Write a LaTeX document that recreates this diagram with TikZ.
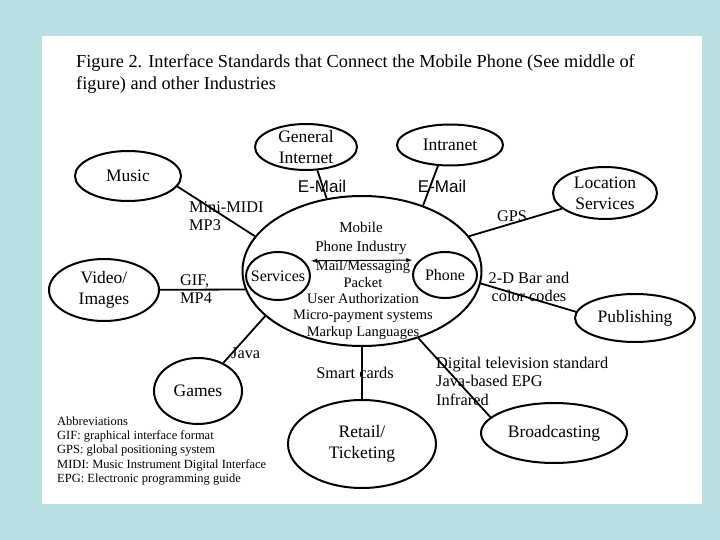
\documentclass[tikz,border=0pt]{standalone}
\usepackage{fontspec}
\setmainfont{Liberation Serif}
\newfontfamily\emailfont{Liberation Sans}
\usetikzlibrary{shapes.geometric}
\definecolor{slidebg}{RGB}{185,223,227}

\begin{document}
\begin{tikzpicture}[
  x=1pt, y=-1pt,
  industry/.style={draw, ellipse, line width=2pt, inner sep=-6pt, align=center, font=\fontsize{17.5}{21}\selectfont},
  inner/.style={industry, font=\fontsize{16}{19}\selectfont},
  link/.style={line width=1.8pt},
  note/.style={inner sep=0pt, font=\fontsize{16.3}{18.5}\selectfont},
  email/.style={inner sep=0pt, font=\emailfont\fontsize{17}{20}\selectfont}
]
% slide and page
\fill[slidebg] (0,0) rectangle (720,540);
\fill[white] (42,36) rectangle (702,504);
\useasboundingbox (0,0) rectangle (720,540);

\node[inner sep=0pt, anchor=west, align=left, font=\fontsize{18.3}{22}\selectfont] (title) at (76,74)
  {Figure 2. Interface Standards that Connect the Mobile Phone (See middle of\\figure) and other Industries};

% industries
\node[industry, minimum width=106pt, minimum height=50pt] (music) at (128,176) {Music};
\node[industry, minimum width=102pt, minimum height=46pt] (internet) at (306,147) {General\\Internet};
\node[industry, minimum width=106pt, minimum height=41pt] (intranet) at (450,145) {Intranet};
\node[industry, minimum width=104pt, minimum height=52pt] (location) at (605,193) {Location\\Services};
\node[industry, minimum width=110pt, minimum height=62pt] (video) at (104,290) {Video/\\Images};
\node[industry, minimum width=88pt, minimum height=66pt] (games) at (198,391) {Games};
\node[industry, minimum width=120pt, minimum height=48pt] (publishing) at (635,318) {Publishing};
\node[industry, minimum width=146pt, minimum height=60pt] (broadcasting) at (554,433) {Broadcasting};
\node[industry, minimum width=148pt, minimum height=88pt] (retail) at (362,444) {Retail/\\Ticketing};

% mobile phone industry
\node[industry, minimum width=239pt, minimum height=150pt] (mobile) at (362,271) {};
\node[inner, minimum width=64pt, minimum height=48pt] (services) at (278,276) {Services};
\node[inner, minimum width=64pt, minimum height=46pt] (phone) at (445,275) {Phone};
\node[inner sep=0pt, align=center, font=\fontsize{15}{19}\selectfont] (mobiletitle) at (361,238) {Mobile\\Phone Industry};
\node[inner sep=0pt, align=center, font=\fontsize{14.5}{16.3}\selectfont] (standards) at (363,300)
  {Mail/Messaging\\Packet\\User Authorization\\Micro-payment systems\\Markup Languages};
\draw[line width=1pt, <->, >=latex, shorten <=7pt, shorten >=7pt] (services.30) -- (phone.150);

% connections
\draw[link] (music.-12) -- (mobile.162);
\draw[link] (internet.-64) -- (mobile.116);
\draw[link] (intranet.-120) -- (mobile.47);
\draw[link] (location.-160) -- (mobile.18);
\draw[link] (video) -- (mobile.-171);
\draw[link] (games.48) -- (mobile.-155);
\draw[link] (mobile.-6) -- (publishing.174);
\draw[link] (mobile.-50) -- (broadcasting.166);
\draw[link] (mobile.south) -- (retail.north);

% standards on the links
\node[email] (mail1) at (322,186) {E-Mail};
\node[email] (mail2) at (442,186) {E-Mail};
\node[note, anchor=west, align=left] (midi) at (189,216) {Mini-MIDI\\MP3};
\node[note, anchor=west, align=left] (gif) at (180,289) {GIF,\\MP4};
\node[note, anchor=west] (java) at (231,353) {Java};
\node[note] (gps) at (512,216) {GPS};
\node[note, align=center] (barcode) at (529,287) {2-D Bar and\\color codes};
\node[note, anchor=west, align=left] (dtv) at (436,381) {Digital television standard\\Java-based EPG\\Infrared};
\node[note] (smart) at (355,373) {Smart cards};

% abbreviations
\node[inner sep=0pt, anchor=west, align=left, font=\fontsize{12.5}{14.2}\selectfont] (abbrev) at (57,451)
  {Abbreviations\\GIF: graphical interface format\\GPS: global positioning system\\MIDI: Music Instrument Digital Interface\\EPG: Electronic programming guide};
\end{tikzpicture}
\end{document}
